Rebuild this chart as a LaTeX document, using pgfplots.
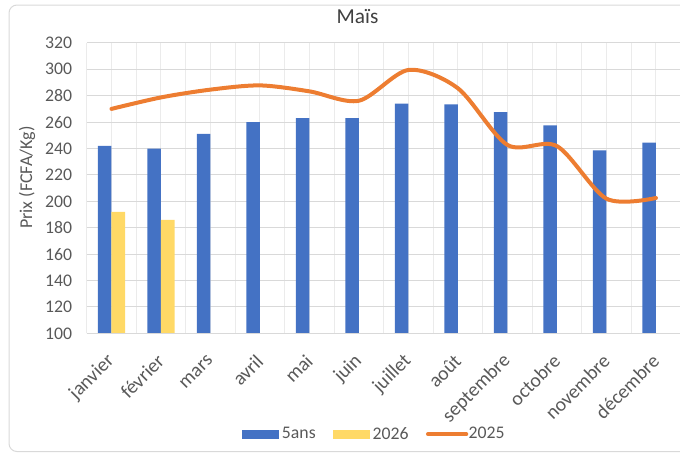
\documentclass[border=0pt]{standalone}
\usepackage{fontspec}
\setmainfont{Carlito}
\usepackage{pgfplots}
\pgfplotsset{compat=1.18}
\definecolor{bleu}{HTML}{4472C4}
\definecolor{jaune}{HTML}{FFD966}
\definecolor{orange25}{HTML}{ED7D31}
\definecolor{grilleh}{HTML}{D9D9D9}
\definecolor{grillev}{HTML}{EBEBEB}
\definecolor{gristxt}{HTML}{595959}
\definecolor{titre}{HTML}{404040}

\begin{document}
\begin{tikzpicture}
\useasboundingbox (0pt,0pt) rectangle (510pt,341.25pt);
\clip (0pt,0pt) rectangle (510pt,341.25pt);
% cadre du graphique (coupe a droite comme dans l'original)
\draw[rounded corners=6pt, line width=0.75pt, color=grilleh] (6.75pt,2.6pt) rectangle (540pt,337.5pt);
\begin{axis}[
    at={(65.025pt,91.275pt)}, anchor=south west,
    scale only axis,
    width=445.5pt, height=217.8pt,
    xmin=-0.5, xmax=11.5,
    ymin=100, ymax=320,
    ytick distance=20,
    xtick={0,...,11},
    xticklabels={janvier,février,mars,avril,mai,juin,juillet,août,septembre,octobre,novembre,décembre},
    minor xtick={-0.5,0.5,...,11.5},
    xmajorgrids, xminorgrids, ymajorgrids,
    grid style={line width=0.75pt, color=grillev},
    y grid style={color=grilleh},
    axis line style={draw=none},
    tick style={draw=none},
    /pgf/number format/assume math mode=true,
    ticklabel style={font=\fontsize{13.3}{16}\selectfont, text=gristxt},
    yticklabel style={anchor=east, xshift=-7.5pt},
    xticklabel style={yshift=-18.5pt, rotate=45, anchor=east, inner sep=0pt,
                      font=\fontsize{14.8}{18}\selectfont},
    title={Maïs},
    title style={at={(axis description cs:0.456,1.0386)}, anchor=base,
                 font=\fontsize{16}{19}\selectfont, text=titre},
    ylabel={Prix (FCFA/Kg)},
    ylabel style={at={(axis description cs:-0.1005,0.5365)}, anchor=center,
                  font=\fontsize{13.5}{16}\selectfont, text=gristxt},
    legend columns=3,
    legend style={at={(axis description cs:0.485,-0.347)}, anchor=center,
                  draw=none, fill=none,
                  font=\fontsize{13.3}{16}\selectfont, text=gristxt,
                  nodes={inner xsep=2pt},
                  /tikz/every even column/.append style={column sep=11pt}},
]
\addplot[ybar, bar width=0.276, bar shift=-0.138, fill=bleu, draw=none,
    legend image code/.code={\fill[bleu] (0pt,-3.4pt) rectangle (27.75pt,3.4pt);}]
  coordinates {(0,242) (1,240) (2,251) (3,260) (4,263) (5,263)
               (6,274) (7,273.5) (8,267.5) (9,257.5) (10,238.5) (11,244.5)};
\addlegendentry{5ans}
\addplot[ybar, bar width=0.276, bar shift=0.138, fill=jaune, draw=none,
    legend image code/.code={\fill[jaune] (0pt,-3.4pt) rectangle (27.75pt,3.4pt);}]
  coordinates {(0,192) (1,186)};
\addlegendentry{2026}
\addplot[smooth, color=orange25, line width=3pt, line cap=round,
    legend image code/.code={%
      \path[draw=none, fill=none] (0pt,-3.4pt) rectangle (30pt,3.4pt);
      \draw[orange25, line width=3pt, line cap=round, overlay] (1.5pt,0pt) -- (30.2pt,0pt);}]
  coordinates {(0,270) (1,278.7) (2,284.6) (3,287.8) (4,283.3) (5,276.2)
               (6,299.5) (7,285.6) (8,242.7) (9,241.8) (10,202) (11,202.5)};
\addlegendentry{2025}
\draw[grilleh, line width=0.75pt] (axis cs:-0.5,100) -- (axis cs:11.5,100);
\end{axis}
\end{tikzpicture}
\end{document}
